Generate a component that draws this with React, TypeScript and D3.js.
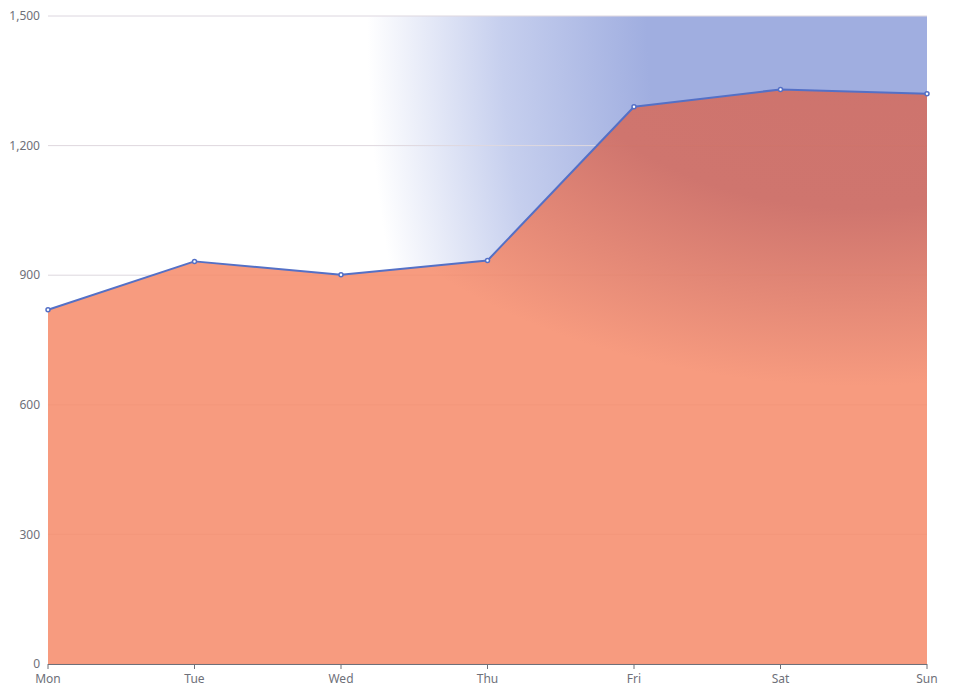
import React from "react";
import * as d3 from "d3";

const categories = ["Mon", "Tue", "Wed", "Thu", "Fri", "Sat", "Sun"];
const values = [820, 932, 901, 934, 1290, 1330, 1320];
const yTicks = [0, 300, 600, 900, 1200, 1500];

export default function App() {
  const W = 953, H = 692;
  const left = 48, right = 927, top = 16, bottom = 664;
  const x = d3.scalePoint<string>().domain(categories).range([left, right]);
  const y = d3.scaleLinear().domain([0, 1500]).range([bottom, top]);
  const pts = categories.map((c, i) => [x(c)!, y(values[i])] as [number, number]);
  const line = d3.line()(pts)!;
  const area = d3.area<[number, number]>().x(d => d[0]).y0(y(0)).y1(d => d[1])(pts)!;
  const fmt = d3.format(",");
  return (
    <svg width={W} height={H} style={{ position: "absolute", left: 0, top: 0 }} fontFamily="'Microsoft YaHei', 'Noto Sans', sans-serif">
      <defs>
        <radialGradient id="bg" gradientUnits="userSpaceOnUse" cx={right} cy={top} r={560}
          gradientTransform={`translate(${right},${top}) scale(1,1.6) translate(${-right},${-top})`}>
          <stop offset="0" stopColor="#a0aee0" />
          <stop offset="0.5" stopColor="#a0aee0" />
          <stop offset="0.76" stopColor="#c6cfee" />
          <stop offset="1" stopColor="#ffffff" />
        </radialGradient>
        <radialGradient id="red" gradientUnits="userSpaceOnUse" cx={860} cy={16} r={370}
          gradientTransform="translate(860,16) scale(1.6,1) translate(-860,-16)">
          <stop offset="0" stopColor="#cd736d" stopOpacity={1} />
          <stop offset="0.52" stopColor="#cf756e" stopOpacity={1} />
          <stop offset="0.76" stopColor="#cf756e" stopOpacity={0.5} />
          <stop offset="1" stopColor="#cf756e" stopOpacity={0} />
        </radialGradient>
      </defs>
      <rect x={left} y={top} width={right - left} height={bottom - top} fill="url(#bg)" />
      {yTicks.map(t => (
        <line key={t} x1={left} x2={right} y1={y(t)} y2={y(t)} stroke="#e0e6f1" />
      ))}
      <path d={area} fill="#f79b7f" />
      <path d={area} fill="url(#red)" />
      {yTicks.map(t => (
        <line key={"o" + t} x1={left} x2={right} y1={y(t)} y2={y(t)} stroke="#e07a66" strokeOpacity={0.12} />
      ))}
      {yTicks.map(t => (
        <text key={"l" + t} x={left - 8} y={y(t)} dy="0.35em" textAnchor="end" fontSize={12} fill="#6e7079">{fmt(t)}</text>
      ))}
      <line x1={left} x2={right} y1={bottom + 0.5} y2={bottom + 0.5} stroke="#6e7079" />
      {categories.map(c => (
        <g key={c}>
          <line x1={x(c)!} x2={x(c)!} y1={bottom} y2={bottom + 5} stroke="#6e7079" />
          <text x={x(c)!} y={bottom + 19} textAnchor="middle" fontSize={12} fill="#6e7079">{c}</text>
        </g>
      ))}
      <path d={line} fill="none" stroke="#5470c6" strokeWidth={2} strokeLinejoin="bevel" />
      {pts.map((p, i) => (
        <circle key={i} cx={p[0]} cy={p[1]} r={2} fill="#fff" stroke="#5470c6" strokeWidth={1.5} />
      ))}
    </svg>
  );
}
